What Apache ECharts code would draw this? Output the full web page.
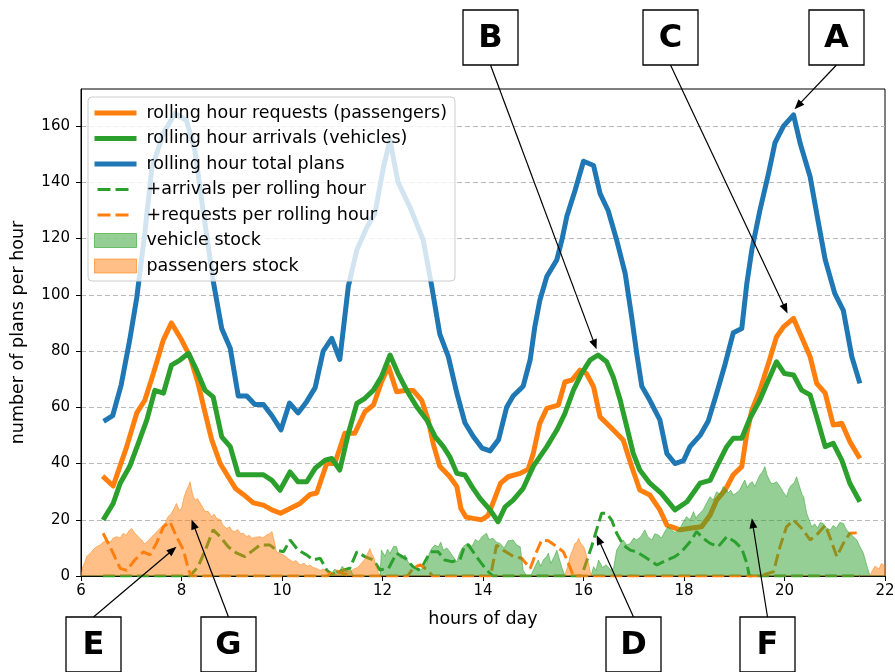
<!DOCTYPE html>
<html>
<head>
<meta charset="utf-8">
<script src="https://cdn.jsdelivr.net/npm/echarts@6/dist/echarts.min.js"></script>
<style>
  html, body { margin: 0; padding: 0; background: #fff; }
  #chart { width: 895px; height: 672px; }
</style>
</head>
<body>
<div id="chart"></div>
<script>
// ---- data: [hour of day, plans per hour] ----
const requestsRolling = [
  [6.43,35.5],[6.64,32],[6.91,46],[7.11,58],[7.27,62.5],[7.44,72],[7.64,84],[7.8,90],[8.0,84],[8.17,78],
  [8.33,68.5],[8.47,58],[8.6,48.5],[8.77,40],[8.93,35.3],[9.08,31],[9.23,29],[9.43,26],[9.63,25.2],[9.8,23.5],
  [9.97,22.3],[10.16,24],[10.36,25.8],[10.56,29],[10.69,29.5],[10.89,40],[11.05,40],[11.25,50.8],[11.45,50.8],[11.65,58.4],
  [11.82,60.8],[11.98,69],[12.12,74.5],[12.28,65.5],[12.45,66],[12.61,66],[12.78,62.5],[12.91,55.5],[13.01,47],[13.14,39],
  [13.34,35.3],[13.48,31.8],[13.56,24],[13.66,21],[13.8,20.5],[13.97,20],[14.1,21.5],[14.22,27],[14.35,33],[14.5,35.3],
  [14.74,36.5],[14.9,38],[15.0,43.6],[15.13,54.3],[15.27,59.6],[15.5,60.8],[15.63,69],[15.77,69.7],[15.93,73.2],[16.06,72],
  [16.2,67.3],[16.33,56.6],[16.53,53.1],[16.79,48.4],[16.96,38.9],[17.12,30.6],[17.32,28.8],[17.52,23.5],[17.66,18.1],[17.92,16.4],
  [18.12,17],[18.35,17.5],[18.52,21.7],[18.65,27],[18.82,30.6],[18.98,36],[19.15,38.9],[19.25,50.7],[19.35,59],[19.51,66.1],
  [19.68,75.6],[19.84,85],[19.98,88.6],[20.18,91.6],[20.34,85],[20.51,78],[20.64,68.5],[20.81,65],[20.97,53.7],[21.14,54.3],
  [21.3,47.8],[21.5,41.8]
];
const arrivalsRolling = [
  [6.44,19.9],[6.64,25.8],[6.78,33],[6.97,39],[7.14,47.2],[7.31,55.5],[7.47,66],[7.64,65],[7.8,75],[7.97,76.8],
  [8.14,79.2],[8.3,73.2],[8.47,66],[8.63,63.7],[8.8,49.5],[8.97,46],[9.13,36],[9.3,36],[9.46,36],[9.63,36],
  [9.8,34],[9.96,30.5],[10.16,37],[10.32,33.5],[10.49,33.5],[10.66,38.3],[10.86,41.2],[10.99,41.8],[11.15,37.7],[11.32,50.7],
  [11.49,61.4],[11.65,63.2],[11.82,66.1],[11.98,70.9],[12.15,78.6],[12.31,72],[12.48,66.1],[12.68,60.2],[12.88,55.5],[13.05,49.5],
  [13.21,46],[13.34,42.4],[13.48,36.5],[13.64,35.9],[13.78,31.8],[13.94,27.6],[14.14,23.5],[14.3,19.3],[14.44,24.6],[14.6,27],
  [14.8,31.2],[15.0,39],[15.27,46],[15.47,51.9],[15.63,57.8],[15.8,66.1],[15.96,72],[16.13,76.8],[16.29,78.6],[16.46,76.2],
  [16.59,70.9],[16.73,62.6],[16.86,53.1],[16.99,43.6],[17.12,37.7],[17.32,33],[17.55,29.4],[17.82,23.5],[18.06,26.4],[18.32,33],
  [18.52,34],[18.68,40],[18.85,46],[18.98,49],[19.15,49],[19.31,56],[19.51,62.6],[19.68,69.7],[19.84,76.2],[20.0,72],
  [20.18,71.5],[20.34,66.1],[20.51,64.4],[20.64,56.6],[20.81,46],[20.97,47.2],[21.14,41.2],[21.3,33],[21.5,26.4]
];
const totalPlansRolling = [
  [6.45,55],[6.63,57],[6.8,68],[6.97,84],[7.11,99],[7.27,122],[7.41,145],[7.64,157.5],[7.87,164.5],[8.1,162],
  [8.27,151],[8.43,130],[8.63,105],[8.8,88],[8.97,81],[9.13,64],[9.3,64],[9.46,61],[9.63,61],[9.8,57],
  [9.98,52],[10.15,61.5],[10.32,58],[10.49,62],[10.66,67],[10.82,80],[10.99,84.5],[11.15,77],[11.32,103],[11.49,116],
  [11.69,124],[11.85,129],[12.02,145.5],[12.15,155],[12.31,140],[12.55,131],[12.81,119.5],[12.98,103],[13.14,86],[13.31,78],
  [13.48,65],[13.64,54.5],[13.81,49.5],[13.98,45.5],[14.14,44.5],[14.31,48.5],[14.47,60],[14.6,64],[14.8,67.5],[14.94,77],
  [15.03,88.5],[15.13,98],[15.27,106.5],[15.47,112.5],[15.57,119.5],[15.67,128],[15.83,137],[16.0,147.5],[16.2,146],[16.33,136],
  [16.49,130],[16.66,119.5],[16.83,107.5],[16.96,92],[17.06,79],[17.16,67.5],[17.32,62.5],[17.52,55.5],[17.66,43.5],[17.82,40],
  [17.99,41],[18.12,46],[18.32,50],[18.48,55],[18.65,65],[18.82,75.5],[18.98,86.5],[19.15,88],[19.25,104],[19.35,116],
  [19.51,130],[19.68,143],[19.81,154],[19.98,160],[20.18,164],[20.31,154],[20.51,142],[20.64,129],[20.81,112.5],[21.0,100.5],
  [21.17,94.5],[21.34,78],[21.5,68.5]
];
const arrivalsAdded = [
  [6.44,0],[8.17,0],[8.33,3.3],[8.5,10.4],[8.63,16.4],[8.77,14],[8.93,10.4],[9.1,8.1],[9.26,6.9],[9.43,9.2],
  [9.56,11],[9.76,11],[9.89,9.2],[10.03,8.6],[10.16,12.8],[10.32,9.2],[10.49,7.5],[10.62,5.7],[10.76,6.3],[10.89,2.1],
  [11.0,0.5],[11.22,2.1],[11.35,2.8],[11.49,8.6],[11.65,6.9],[11.82,5.7],[11.95,2.1],[12.12,2.7],[12.28,8.1],[12.45,6.3],
  [12.61,3.3],[12.75,2],[12.95,8.6],[13.11,8.6],[13.24,5.7],[13.38,5.1],[13.54,5.7],[13.64,11],[13.71,11],[13.87,6.9],
  [14.07,2.1],[14.2,0],[15.95,0],[16.0,2],[16.16,10.4],[16.26,16.4],[16.36,22.3],[16.46,22.3],[16.56,19.9],[16.66,15.2],
  [16.79,11],[16.93,9.2],[17.06,8.6],[17.26,6.3],[17.46,3.9],[17.66,5.7],[17.82,6.9],[17.95,8.6],[18.15,12.8],[18.25,15.8],
  [18.38,13.4],[18.52,11.6],[18.68,10.4],[18.85,14],[19.01,12.2],[19.15,9.8],[19.25,4.5],[19.3,0],[21.5,0]
];
const requestsAdded = [
  [6.44,15.2],[6.61,9.2],[6.78,2.7],[6.91,2],[7.07,5.7],[7.24,8.6],[7.37,7.5],[7.5,11.6],[7.64,17.5],[7.77,19.3],
  [7.9,14],[8.04,9.2],[8.14,2.1],[8.2,0],[10.9,0],[11.05,2],[11.2,1],[11.35,0],[12.5,0],[12.62,3],
  [12.75,4],[12.9,2],[13.0,0],[14.15,0],[14.27,11],[14.4,9.2],[14.6,7],[14.77,6.3],[14.94,2.7],[15.05,8],
  [15.17,12.8],[15.3,12.5],[15.47,10.4],[15.6,8.6],[15.7,4.5],[15.8,0],[19.5,0],[19.78,1.5],[19.91,10.4],[20.04,17.5],
  [20.18,19.9],[20.37,16.4],[20.51,12.8],[20.67,15.2],[20.81,18.1],[20.9,14],[21.04,6.9],[21.17,11.6],[21.3,15.2],[21.5,15.4]
];
const vehicleStock = [
  [6.0,0],[10.95,0],[11.05,2.5],[11.12,1],[11.2,3.5],[11.28,1.5],[11.35,3],[11.42,0],
  [11.95,0],[11.98,9.2],[12.05,7],[12.1,9.5],[12.15,8],[12.22,10.5],[12.28,10.4],[12.33,7],[12.38,6.3],[12.45,7.5],[12.51,5],
  [12.56,4],[12.61,3.3],[12.68,2.5],[12.75,2.1],[12.82,3],[12.88,4.5],[12.93,8],[12.98,9.8],[13.04,11],[13.11,10.4],
  [13.16,12],[13.21,9.2],[13.28,10],[13.34,8.6],[13.4,7],[13.48,5],[13.53,8],[13.58,9.8],[13.64,11],[13.71,11.6],
  [13.78,10.5],[13.85,13],[13.91,12.2],[13.98,14],[14.07,15.2],[14.12,13],[14.2,13.4],[14.27,12],[14.34,11.6],[14.42,10],
  [14.5,12.5],[14.6,12.8],[14.67,11],[14.74,10.4],[14.8,2],[14.87,0],
  [14.95,0],[15.0,2],[15.05,4],[15.1,5.7],[15.15,3.5],[15.2,5.7],[15.27,7],[15.3,8.1],[15.35,4.5],[15.42,7],
  [15.47,9.2],[15.52,6],[15.57,3],[15.63,0],
  [16.15,0],[16.2,3.3],[16.25,2],[16.3,5.7],[16.38,3],[16.45,4],[16.55,2],[16.6,3],[16.66,9.2],[16.72,11],
  [16.79,12.8],[16.86,11],[16.93,11.6],[17.0,13.5],[17.06,12.8],[17.14,14],[17.22,16.4],[17.28,14],[17.36,12.8],[17.42,15],
  [17.49,14.6],[17.55,13.5],[17.62,15.8],[17.68,17.5],[17.75,16.4],[17.82,15.5],[17.92,17],[17.98,19],[18.05,21.1],[18.12,20],
  [18.19,22.9],[18.24,20.5],[18.28,21.7],[18.33,22.5],[18.38,23.5],[18.45,26],[18.52,28.2],[18.58,27],[18.65,30],[18.72,29],
  [18.78,31.8],[18.83,31],[18.88,29.6],[18.93,30.5],[18.98,28.8],[19.04,29.5],[19.11,30.6],[19.16,32.5],[19.21,34.1],[19.26,31.5],
  [19.31,32.9],[19.36,33.5],[19.41,31.8],[19.46,34],[19.51,35.9],[19.56,37],[19.61,38.9],[19.65,36],[19.68,35.9],[19.73,33],
  [19.78,32.9],[19.84,33.5],[19.91,31.8],[19.97,30],[20.04,28.2],[20.09,31],[20.14,32.4],[20.19,33],[20.24,35.3],[20.28,33],
  [20.31,31.2],[20.35,29],[20.38,28.2],[20.44,22.3],[20.49,20],[20.54,17.5],[20.6,18.5],[20.66,17],[20.71,19],[20.77,18.7],
  [20.84,17],[20.91,16.4],[20.97,18],[21.03,17],[21.1,19],[21.17,18.7],[21.23,16.5],[21.3,15.2],[21.37,14],[21.44,12.8],
  [21.5,10.5],[21.57,8.1],[21.64,3.6],[21.7,0],[22.0,0]
];
const passengerStock = [
  [6.0,0],[6.03,3],[6.08,5],[6.11,6.9],[6.18,8],[6.25,9.5],[6.31,10.4],[6.38,11],[6.44,12],[6.51,12.8],
  [6.58,12],[6.64,13.5],[6.71,14],[6.78,13.5],[6.84,15.2],[6.9,14.5],[6.95,16],[7.01,16.9],[7.06,15.5],[7.11,14.6],
  [7.16,13.5],[7.21,12.8],[7.26,11.5],[7.31,12],[7.36,13],[7.41,14],[7.47,15],[7.54,16.4],[7.6,17.5],[7.67,18.7],
  [7.73,21],[7.8,22.3],[7.85,24],[7.9,25.8],[7.95,23.5],[8.0,24],[8.05,28],[8.1,30.6],[8.14,32],[8.17,33.5],
  [8.21,30],[8.24,28],[8.27,27],[8.32,27.5],[8.37,26],[8.42,24.5],[8.47,22.9],[8.53,23],[8.6,21.1],[8.65,22],
  [8.7,20.5],[8.77,20],[8.83,18],[8.9,16.9],[8.96,17.5],[9.01,16],[9.06,15.8],[9.12,16.5],[9.18,15],[9.23,15.2],
  [9.3,14],[9.35,14.5],[9.4,13.4],[9.47,13.8],[9.56,14],[9.62,13.5],[9.69,14.6],[9.75,15],[9.8,15.8],[9.85,12],
  [9.89,8.6],[9.96,8],[10.03,7.5],[10.1,6.5],[10.16,5.7],[10.22,5],[10.28,5.5],[10.36,3.9],[10.44,4.5],[10.5,3.5],
  [10.56,3.9],[10.62,3],[10.69,2.7],[10.76,2],[10.82,2.5],[10.9,1.5],[11.0,1],[11.08,0.5],[11.15,1.5],[11.22,2.7],
  [11.3,2],[11.36,1.5],[11.43,2.5],[11.5,3],[11.55,3.9],[11.6,5],[11.65,6],[11.69,7.5],[11.75,9.8],[11.78,8],
  [11.82,6.9],[11.87,4],[11.92,1],[11.95,0],
  [15.62,0],[15.68,3],[15.73,6.9],[15.78,9],[15.83,11.6],[15.87,12],[15.9,13.4],[15.95,11.5],[16.0,10.5],[16.03,9.2],
  [16.07,6.5],[16.1,4.5],[16.15,0],
  [21.7,0],[21.75,2],[21.8,3.5],[21.88,2.5],[21.93,4.5],[22.0,3.5]
];

const xTicks = [6, 8, 10, 12, 14, 16, 18, 20, 22];
const yTicks = [0, 20, 40, 60, 80, 100, 120, 140, 160];

// callout letters and the point (hour, value) each arrow points at
const calloutLetters = ['A', 'B', 'C', 'D', 'E', 'F', 'G'];
const calloutHours   = [20.2, 16.26, 20.06, 16.26, 7.9, 19.35, 8.2];
const calloutValues  = [166, 80.6, 93.4, 14.6, 10.4, 20.5, 20.1];

// ---- layout & style ----
const FONT = '"DejaVu Sans", "Liberation Sans", sans-serif';
const C_ORANGE = '#ff7f0e', C_GREEN = '#2ca02c', C_BLUE = '#1f77b4';
const boxLayout = {
  A: { x: 809, y: 10, edge: 'bottom' },
  B: { x: 463, y: 10, edge: 'bottom' },
  C: { x: 643, y: 10, edge: 'bottom' },
  D: { x: 606, y: 617, edge: 'top' },
  E: { x: 66,  y: 617, edge: 'top' },
  F: { x: 740, y: 617, edge: 'top' },
  G: { x: 201, y: 617, edge: 'top' }
};
const BOX = 55;

const chart = echarts.init(document.getElementById('chart'), null, { renderer: 'canvas' });

const names = {
  req: 'rolling hour requests (passengers)',
  arr: 'rolling hour arrivals (vehicles)',
  tot: 'rolling hour total plans',
  arrAdd: '+arrivals per rolling hour',
  reqAdd: '+requests per rolling hour',
  vStock: 'vehicle stock',
  pStock: 'passengers stock'
};

function solidLine(name, data, color) {
  return {
    name, type: 'line', data, symbol: 'none', z: 2,
    lineStyle: { color, width: 5, join: 'round', cap: 'butt' },
    itemStyle: { color }
  };
}
function dashedLine(name, data, color) {
  return {
    name, type: 'line', data, symbol: 'none', z: 2,
    lineStyle: { color, width: 3, type: [12, 5] },
    itemStyle: { color }
  };
}
function stockArea(name, data, rgb) {
  return {
    name, type: 'line', data, symbol: 'none', z: 3,
    lineStyle: { color: 'rgba(' + rgb + ',0.5)', width: 1 },
    areaStyle: { color: 'rgba(' + rgb + ',0.5)', opacity: 1 },
    itemStyle: { color: 'rgba(' + rgb + ',0.5)' }
  };
}

const legendLine = (name, color) => ({
  name, itemStyle: { opacity: 0 },
  lineStyle: { color, width: 5, type: 'solid', opacity: 1 }
});
const legendDash = (name, color) => ({
  name, itemStyle: { opacity: 0 },
  lineStyle: { color, width: 3, type: [13, 5, 13, 11], dashOffset: 39, opacity: 1 }
});
const legendPatch = (name, rgb) => ({
  name, icon: 'rect',
  itemStyle: { color: 'rgba(' + rgb + ',0.5)', borderColor: 'rgba(' + rgb + ',0.6)', borderWidth: 1, opacity: 1 }
});

chart.setOption({
  animation: false,
  backgroundColor: '#fff',
  textStyle: { fontFamily: FONT },
  grid: {
    left: 81, top: 89, right: 10, bottom: 96,
    show: true, borderColor: '#000', borderWidth: 1, backgroundColor: 'transparent',
    outerBoundsMode: 'none', containLabel: false
  },
  legend: {
    orient: 'vertical', left: 88, top: 97,
    padding: [7, 8, 6, 4],
    itemWidth: 42, itemHeight: 14, itemGap: 7.5,
    backgroundColor: 'rgba(255,255,255,0.8)',
    borderColor: '#cccccc', borderWidth: 1, borderRadius: 4,
    selectedMode: false,
    textStyle: { fontFamily: FONT, fontSize: 17.5, color: '#000', lineHeight: 16, padding: [0, 0, 0, 5] },
    data: [
      legendLine(names.req, C_ORANGE),
      legendLine(names.arr, C_GREEN),
      legendLine(names.tot, C_BLUE),
      legendDash(names.arrAdd, C_GREEN),
      legendDash(names.reqAdd, C_ORANGE),
      legendPatch(names.vStock, '44,160,44'),
      legendPatch(names.pStock, '255,127,14')
    ]
  },
  xAxis: {
    type: 'value', min: xTicks[0], max: xTicks[xTicks.length - 1], interval: 2,
    name: 'hours of day', nameLocation: 'middle', nameGap: 34,
    nameTextStyle: { fontFamily: FONT, fontSize: 17.5, color: '#000' },
    axisLine: { show: true, onZero: false, lineStyle: { color: '#000', width: 1 } },
    axisTick: { show: true, inside: false, length: 5, lineStyle: { color: '#000' } },
    axisLabel: { show: true, fontFamily: FONT, fontSize: 15, color: '#000', margin: 8 },
    splitLine: { show: false }
  },
  yAxis: {
    type: 'value', min: 0, max: 173.2, interval: 20,
    name: 'number of plans per hour', nameLocation: 'middle', nameGap: 54, nameRotate: 90,
    nameTextStyle: { fontFamily: FONT, fontSize: 17.5, color: '#000' },
    axisLine: { show: true, lineStyle: { color: '#000', width: 1 } },
    axisTick: { show: true, inside: false, length: 5, lineStyle: { color: '#000' }, customValues: yTicks },
    axisLabel: { show: true, fontFamily: FONT, fontSize: 15, color: '#000', margin: 11, customValues: yTicks },
    splitLine: { show: true, lineStyle: { color: '#b8b8b8', width: 1, type: [5, 3] } }
  },
  series: [
    solidLine(names.req, requestsRolling, C_ORANGE),
    solidLine(names.arr, arrivalsRolling, C_GREEN),
    solidLine(names.tot, totalPlansRolling, C_BLUE),
    dashedLine(names.arrAdd, arrivalsAdded, C_GREEN),
    dashedLine(names.reqAdd, requestsAdded, C_ORANGE),
    stockArea(names.vStock, vehicleStock, '44,160,44'),
    stockArea(names.pStock, passengerStock, '255,127,14')
  ]
});

// ---- lettered callouts with arrows pointing at data positions ----
function calloutGraphics() {
  const out = [];
  calloutLetters.forEach((letter, i) => {
    const b = boxLayout[letter];
    const tip = chart.convertToPixel({ gridIndex: 0 }, [calloutHours[i], calloutValues[i]]);
    const start = [b.x + BOX / 2, b.edge === 'bottom' ? b.y + BOX : b.y];
    const dx = tip[0] - start[0], dy = tip[1] - start[1];
    const len = Math.hypot(dx, dy), ux = dx / len, uy = dy / len;
    const headL = 10, headW = 4;
    const base = [tip[0] - ux * headL, tip[1] - uy * headL];
    out.push({
      type: 'line', z: 100, silent: true,
      shape: { x1: start[0], y1: start[1], x2: base[0] + ux * 2, y2: base[1] + uy * 2 },
      style: { stroke: '#000', lineWidth: 1.2 }
    });
    out.push({
      type: 'polygon', z: 100, silent: true,
      shape: { points: [tip, [base[0] - uy * headW, base[1] + ux * headW], [base[0] + uy * headW, base[1] - ux * headW]] },
      style: { fill: '#000' }
    });
    out.push({
      type: 'rect', z: 101, silent: true,
      shape: { x: b.x, y: b.y, width: BOX, height: BOX },
      style: { fill: '#fff', stroke: '#000', lineWidth: 1.3 }
    });
    out.push({
      type: 'text', z: 102, silent: true,
      x: b.x + BOX / 2, y: b.y + BOX / 2 + 1,
      style: { text: letter, font: 'bold 32px ' + FONT, fill: '#000', align: 'center', verticalAlign: 'middle' }
    });
  });
  return out;
}
chart.setOption({ graphic: calloutGraphics() });
</script>
</body>
</html>
